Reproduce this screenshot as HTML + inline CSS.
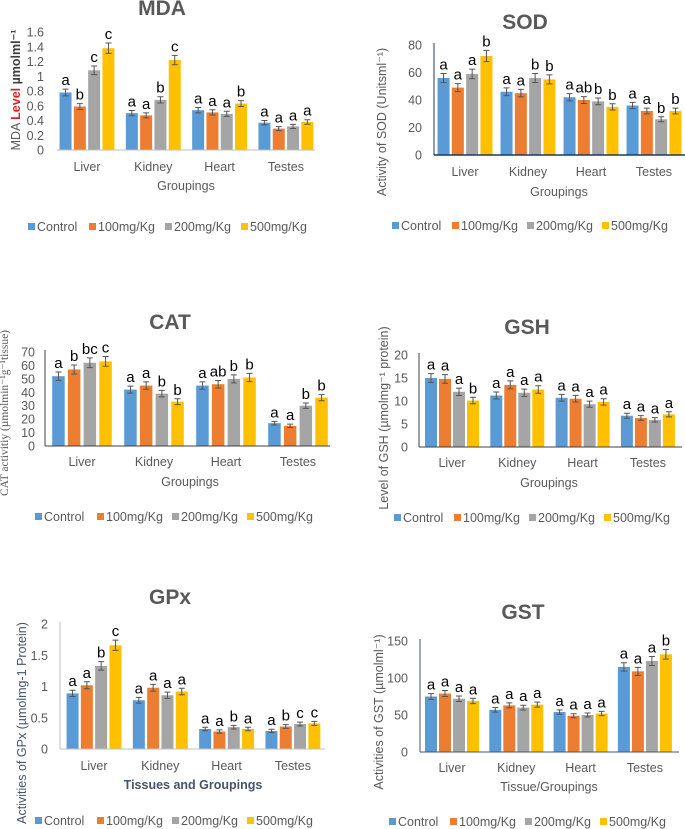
<!DOCTYPE html>
<html><head><meta charset="utf-8"><style>
html,body{margin:0;padding:0;background:#fff;}
svg{display:block;font-family:"Liberation Sans",sans-serif;}
</style></head><body>
<svg id="fig" width="685" height="829" viewBox="0 0 685 829"></svg>
<script>
const groups=["Liver","Kidney","Heart","Testes"];
const seriesNames=["Control","100mg/Kg","200mg/Kg","500mg/Kg"];
const colors=["#5b9bd5","#ed7d31","#a5a5a5","#ffc000"];

const mdaControl=[0.78,0.50,0.54,0.37];
const mda100=[0.59,0.47,0.51,0.29];
const mda200=[1.08,0.68,0.49,0.32];
const mda500=[1.38,1.22,0.63,0.38];
const mdaLetters=[["a","b","c","c"],["a","a","b","c"],["a","a","a","b"],["a","a","a","a"]];
const mdaTicks=["0","0.2","0.4","0.6","0.8","1","1.2","1.4","1.6"];

const sodControl=[56,46,42,36];
const sod100=[49,45,40,32];
const sod200=[59,56,39,26];
const sod500=[72,55,35,32];
const sodLetters=[["a","a","a","b"],["a","a","b","b"],["a","ab","b","b"],["a","a","b","b"]];
const sodTicks=["0","20","40","60","80"];

const catControl=[52,42,45,17];
const cat100=[57,45,46,15];
const cat200=[62,39,50,30];
const cat500=[63,33,51,36];
const catLetters=[["a","b","bc","c"],["a","a","b","b"],["a","ab","b","b"],["a","a","b","b"]];
const catTicks=["0","10","20","30","40","50","60","70"];

const gshControl=[15,11.2,10.7,6.8];
const gsh100=[14.8,13.5,10.5,6.3];
const gsh200=[12,11.8,9.3,5.9];
const gsh500=[10.1,12.5,9.8,7.1];
const gshLetters=[["a","a","a","b"],["a","a","a","a"],["a","a","a","a"],["a","a","a","a"]];
const gshTicks=["0","5","10","15","20"];

const gpxControl=[0.89,0.78,0.32,0.29];
const gpx100=[1.02,0.98,0.28,0.36];
const gpx200=[1.33,0.86,0.35,0.40];
const gpx500=[1.66,0.92,0.32,0.41];
const gpxLetters=[["a","a","b","c"],["a","a","a","a"],["a","a","b","a"],["a","b","c","c"]];
const gpxTicks=["0","0.5","1","1.5","2"];

const gstControl=[75,57,54,115];
const gst100=[79,63,49,109];
const gst200=[72,60,50,123];
const gst500=[69,64,52,132];
const gstLetters=[["a","a","a","a"],["a","a","a","a"],["a","a","a","a"],["a","a","a","b"]];
const gstTicks=["0","50","100","150"];

const NS="http://www.w3.org/2000/svg";
const svg=document.getElementById('fig');
function mk(tag,attrs,parent,text){const e=document.createElementNS(NS,tag);for(const k in attrs)e.setAttribute(k,attrs[k]);if(text!==undefined)e.textContent=text;(parent||svg).appendChild(e);return e;}

function chart(cfg){
  const g=mk('g',{});
  
  
  const yScale=v=>cfg.y0-(v/cfg.max)*(cfg.y0-cfg.yTop);
  const t=mk('text',{x:cfg.titleX,y:cfg.titleY,'text-anchor':'middle','font-size':21,'font-weight':'bold',fill:'#595959'},g,cfg.title);
  
  
  cfg.ticks.forEach((tk)=>{
    const v=parseFloat(tk);
    const tt=mk('text',{x:cfg.tickX,y:yScale(v)+4.5,'text-anchor':'end','font-size':12.5,fill:'#595959'},g,tk);
    
    
  });
  const series=cfg.series;
  groups.forEach((grp,gi)=>{
    const cx=cfg.cat0+gi*cfg.pitch;
    const total=4*cfg.bw+3*cfg.gap;
    series.forEach((s,si)=>{
      const v=s[gi];
      const x=cx-total/2+si*(cfg.bw+cfg.gap);
      const y=yScale(v);
      const r=mk('rect',{x:x,y:y,width:cfg.bw,height:cfg.y0-y,fill:colors[si]},g);
      
      
      const e=cfg.errFrac*v+cfg.errMin;
      const ec=x+cfg.bw/2;
      const et=yScale(v+e), eb=yScale(v-e);
      mk('path',{d:`M${ec-3},${et}H${ec+3}M${ec},${et}V${eb}M${ec-3},${eb}H${ec+3}`,stroke:'#555','stroke-width':1,fill:'none'},g);
      const l=mk('text',{x:ec,y:et-4,'text-anchor':'middle','font-size':15,fill:'#000'},g,cfg.letters[gi][si]);
      
      
    });
    const cl=mk('text',{x:cx,y:cfg.catY,'text-anchor':'middle','font-size':12.5,fill:'#595959'},g,grp);
    
    
  });
  mk('line',{x1:cfg.axL,x2:cfg.axR,y1:cfg.y0,y2:cfg.y0,stroke:cfg.axisColor,'stroke-width':cfg.axW},g);
  if(cfg.yAxis) mk('line',{x1:cfg.axL,x2:cfg.axL,y1:cfg.y0,y2:cfg.yTop-2,stroke:cfg.axisColor,'stroke-width':1},g);
  const xt=mk('text',{x:cfg.xtX,y:cfg.xtY,'text-anchor':'middle','font-size':12.5,fill:cfg.xtColor||'#595959','font-weight':cfg.xtBold?'bold':'normal'},g,cfg.xTitle);
  
  
  const yt=mk('text',{x:0,y:0,'text-anchor':'middle','font-size':cfg.ytSize||12.5,fill:cfg.ytColor||'#595959','font-family':cfg.ytSerif?'"Liberation Serif",serif':'"Liberation Sans",sans-serif',transform:`translate(${cfg.ytX},${cfg.ytY}) rotate(-90)`},g);
  
  
  yt.innerHTML=cfg.yTitle;
  const lg=mk('g',{},g);
  
  
  seriesNames.forEach((n,i)=>{
    const lx=cfg.legX[i];
    mk('rect',{x:lx,y:cfg.legY-8,width:7,height:7,fill:colors[i]},lg);
    const lt=mk('text',{x:lx+9,y:cfg.legY,'font-size':12.5,fill:'#595959'},lg,n);
    
    
  });
}

chart({name:'mda',title:'MDA',titleX:162,titleY:15,series:[mdaControl,mda100,mda200,mda500],letters:mdaLetters,ticks:mdaTicks,max:1.6,
 y0:150,yTop:32,tickX:44,cat0:87,pitch:66.3,bw:12,gap:2.3,errFrac:0.04,errMin:0.015,catY:171,axL:57,axR:315,axisColor:'#bfbfbf',axW:1,yAxis:false,
 xTitle:'Groupings',xtX:186,xtY:190,yTitle:'MDA <tspan fill="#e02020" font-weight="bold">Level</tspan> <tspan font-weight="bold" fill="#404040">µmolml⁻¹</tspan>',ytX:20,ytY:90,
 legX:[28,89,165,241],legY:231});

chart({name:'sod',title:'SOD',titleX:525,titleY:29,series:[sodControl,sod100,sod200,sod500],letters:sodLetters,ticks:sodTicks,max:80,
 y0:155,yTop:45,tickX:422,cat0:465,pitch:63,bw:12,gap:2.3,errFrac:0.05,errMin:0.5,catY:176,axL:434,axR:685,axisColor:'#1f3864',axW:1.5,yAxis:true,
 xTitle:'Groupings',xtX:559,xtY:196,yTitle:'Activity of SOD (Unitsml⁻¹)',ytX:386,ytY:122,
 legX:[392,452,527,602],legY:230});

chart({name:'cat',title:'CAT',titleX:170,titleY:329,series:[catControl,cat100,cat200,cat500],letters:catLetters,ticks:catTicks,max:70,
 y0:446,yTop:352,tickX:35,cat0:82,pitch:72,bw:12.5,gap:3.2,errFrac:0.05,errMin:0.5,catY:466,axL:45,axR:330,axisColor:'#404040',axW:1,yAxis:true,
 xTitle:'Groupings',xtX:190,xtY:486,yTitle:'CAT activitiy (µmolmin⁻¹g⁻¹tissue)',ytX:8,ytY:413,ytSerif:true,ytSize:11.5,
 legX:[35,97,172,247],legY:521});

chart({name:'gsh',title:'GSH',titleX:527,titleY:334,series:[gshControl,gsh100,gsh200,gsh500],letters:gshLetters,ticks:gshTicks,max:20,
 y0:447,yTop:355,tickX:408,cat0:452,pitch:65.3,bw:12,gap:2,errFrac:0.05,errMin:0.2,catY:467,axL:419,axR:682,axisColor:'#404040',axW:1,yAxis:true,
 xTitle:'Groupings',xtX:549,xtY:487,yTitle:'Level of GSH (µmolmg⁻¹ protein)',ytX:388,ytY:418,
 legX:[394,454,529,604],legY:522});

chart({name:'gpx',title:'GPx',titleX:170,titleY:604,series:[gpxControl,gpx100,gpx200,gpx500],letters:gpxLetters,ticks:gpxTicks,max:2,
 y0:749,yTop:624,tickX:48,cat0:94,pitch:66.3,bw:12,gap:2.3,errFrac:0.04,errMin:0.015,catY:770,axL:60,axR:325,axisColor:'#bfbfbf',axW:1,yAxis:true,
 xTitle:'Tissues and Groupings',xtX:193,xtY:789,xtBold:true,xtColor:'#44546a',yTitle:'Activities of GPx (µmolmg-1 Protein)',ytX:26,ytY:723,ytColor:'#44546a',
 legX:[35,97,172,247],legY:825});

chart({name:'gst',title:'GST',titleX:523,titleY:619,series:[gstControl,gst100,gst200,gst500],letters:gstLetters,ticks:gstTicks,max:150,
 y0:752,yTop:641,tickX:408,cat0:452,pitch:64.3,bw:12,gap:2,errFrac:0.045,errMin:0.5,catY:772,axL:420,axR:679,axisColor:'#44546a',axW:1,yAxis:true,
 xTitle:'Tissue/Groupings',xtX:549,xtY:791,yTitle:'Activities of GST (µmolml⁻¹)',ytX:383,ytY:712,
 legX:[389,450,525,600],legY:826});
</script>
</body></html>
